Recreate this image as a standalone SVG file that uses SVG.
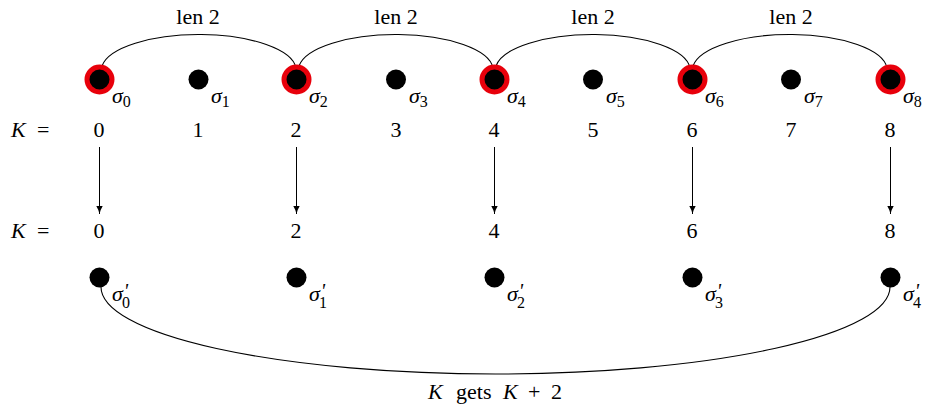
<svg xmlns="http://www.w3.org/2000/svg" width="930" height="410" viewBox="0 0 930 410" font-family="'Liberation Serif', 'DejaVu Serif', serif">
<defs>
<style>
text{font-family:'Liberation Serif','DejaVu Serif',serif;font-size:22px;fill:#000}
.it{font-style:italic}
.sub{font-size:16px;font-style:normal}
.pr{font-size:20px;font-style:italic}
.num{text-anchor:middle}
.dot{fill:#000}
.red{fill:#000;stroke:#e8000b;stroke-width:5}
.arc{fill:none;stroke:#000;stroke-width:1.1}
.ar{stroke:#000;stroke-width:1;marker-end:url(#ah)}
</style>
<marker id="ah" viewBox="0 0 10 10" refX="10" refY="5" markerWidth="8" markerHeight="9" markerUnits="userSpaceOnUse" orient="auto"><path d="M0,1 Q5,4 10,5 Q5,6 0,9 Z" fill="#000"/></marker>
</defs>
<rect width="930" height="410" fill="#fff"/>
<g id="connectors">
<path class="arc" d="M102,66 A97.5 36 0 0 1 296,68"/>
<path class="arc" d="M299,66 A97.5 36 0 0 1 493,68"/>
<path class="arc" d="M496,66 A97.5 36 0 0 1 690,68"/>
<path class="arc" d="M693,66 A97.5 36 0 0 1 887,68"/>
<text class="num" x="198" y="24">len 2</text>
<text class="num" x="396" y="24">len 2</text>
<text class="num" x="593" y="24">len 2</text>
<text class="num" x="791" y="24">len 2</text>
<line class="ar" x1="99.5" y1="147" x2="99.5" y2="214"/>
<line class="ar" x1="296.5" y1="147" x2="296.5" y2="214"/>
<line class="ar" x1="494.5" y1="147" x2="494.5" y2="214"/>
<line class="ar" x1="692.5" y1="147" x2="692.5" y2="214"/>
<line class="ar" x1="890.5" y1="147" x2="890.5" y2="214"/>
<path class="arc" d="M101,287 A394.5 87 0 0 0 890,287"/>
<text x="428" y="399"><tspan class="it">K</tspan><tspan x="456">gets</tspan><tspan class="it" x="503">K</tspan><tspan x="528">+</tspan><tspan x="551">2</tspan></text>
</g>
<g id="row-labels">
<text x="11" y="137"><tspan class="it">K</tspan><tspan x="37">=</tspan></text>
<text x="11" y="238"><tspan class="it">K</tspan><tspan x="37">=</tspan></text>
</g>
<g id="s0"><circle class="red" cx="99.5" cy="79.5" r="12.5"/><text class="it" x="112" y="103">σ<tspan class="sub" dy="4">0</tspan></text><text class="num" x="99" y="137">0</text></g>
<g id="s1"><circle class="dot" cx="198.5" cy="79.5" r="10"/><text class="it" x="211" y="103">σ<tspan class="sub" dy="4">1</tspan></text><text class="num" x="198" y="137">1</text></g>
<g id="s2"><circle class="red" cx="296.5" cy="79.5" r="12.5"/><text class="it" x="309" y="103">σ<tspan class="sub" dy="4">2</tspan></text><text class="num" x="296" y="137">2</text></g>
<g id="s3"><circle class="dot" cx="396" cy="79.5" r="10"/><text class="it" x="409" y="103">σ<tspan class="sub" dy="4">3</tspan></text><text class="num" x="396" y="137">3</text></g>
<g id="s4"><circle class="red" cx="494.5" cy="79.5" r="12.5"/><text class="it" x="507" y="103">σ<tspan class="sub" dy="4">4</tspan></text><text class="num" x="494" y="137">4</text></g>
<g id="s5"><circle class="dot" cx="593" cy="79.5" r="10"/><text class="it" x="606" y="103">σ<tspan class="sub" dy="4">5</tspan></text><text class="num" x="593" y="137">5</text></g>
<g id="s6"><circle class="red" cx="692.5" cy="79.5" r="12.5"/><text class="it" x="705" y="103">σ<tspan class="sub" dy="4">6</tspan></text><text class="num" x="692" y="137">6</text></g>
<g id="s7"><circle class="dot" cx="791" cy="79.5" r="10"/><text class="it" x="804" y="103">σ<tspan class="sub" dy="4">7</tspan></text><text class="num" x="791" y="137">7</text></g>
<g id="s8"><circle class="red" cx="890.5" cy="79.5" r="12.5"/><text class="it" x="903" y="103">σ<tspan class="sub" dy="4">8</tspan></text><text class="num" x="890" y="137">8</text></g>
<g id="p0"><text class="num" x="99" y="238">0</text><circle class="dot" cx="99.5" cy="277.5" r="10"/><text class="it" x="112" y="301">σ<tspan class="pr" dx="1" dy="-3">'</tspan><tspan class="sub" x="122" y="308">0</tspan></text></g>
<g id="p1"><text class="num" x="296" y="238">2</text><circle class="dot" cx="296.5" cy="277.5" r="10"/><text class="it" x="309" y="301">σ<tspan class="pr" dx="1" dy="-3">'</tspan><tspan class="sub" x="319" y="308">1</tspan></text></g>
<g id="p2"><text class="num" x="494" y="238">4</text><circle class="dot" cx="494.5" cy="277.5" r="10"/><text class="it" x="507" y="301">σ<tspan class="pr" dx="1" dy="-3">'</tspan><tspan class="sub" x="517" y="308">2</tspan></text></g>
<g id="p3"><text class="num" x="692" y="238">6</text><circle class="dot" cx="692.5" cy="277.5" r="10"/><text class="it" x="705" y="301">σ<tspan class="pr" dx="1" dy="-3">'</tspan><tspan class="sub" x="715" y="308">3</tspan></text></g>
<g id="p4"><text class="num" x="890" y="238">8</text><circle class="dot" cx="890.5" cy="277.5" r="10"/><text class="it" x="903" y="301">σ<tspan class="pr" dx="1" dy="-3">'</tspan><tspan class="sub" x="913" y="308">4</tspan></text></g>
</svg>
